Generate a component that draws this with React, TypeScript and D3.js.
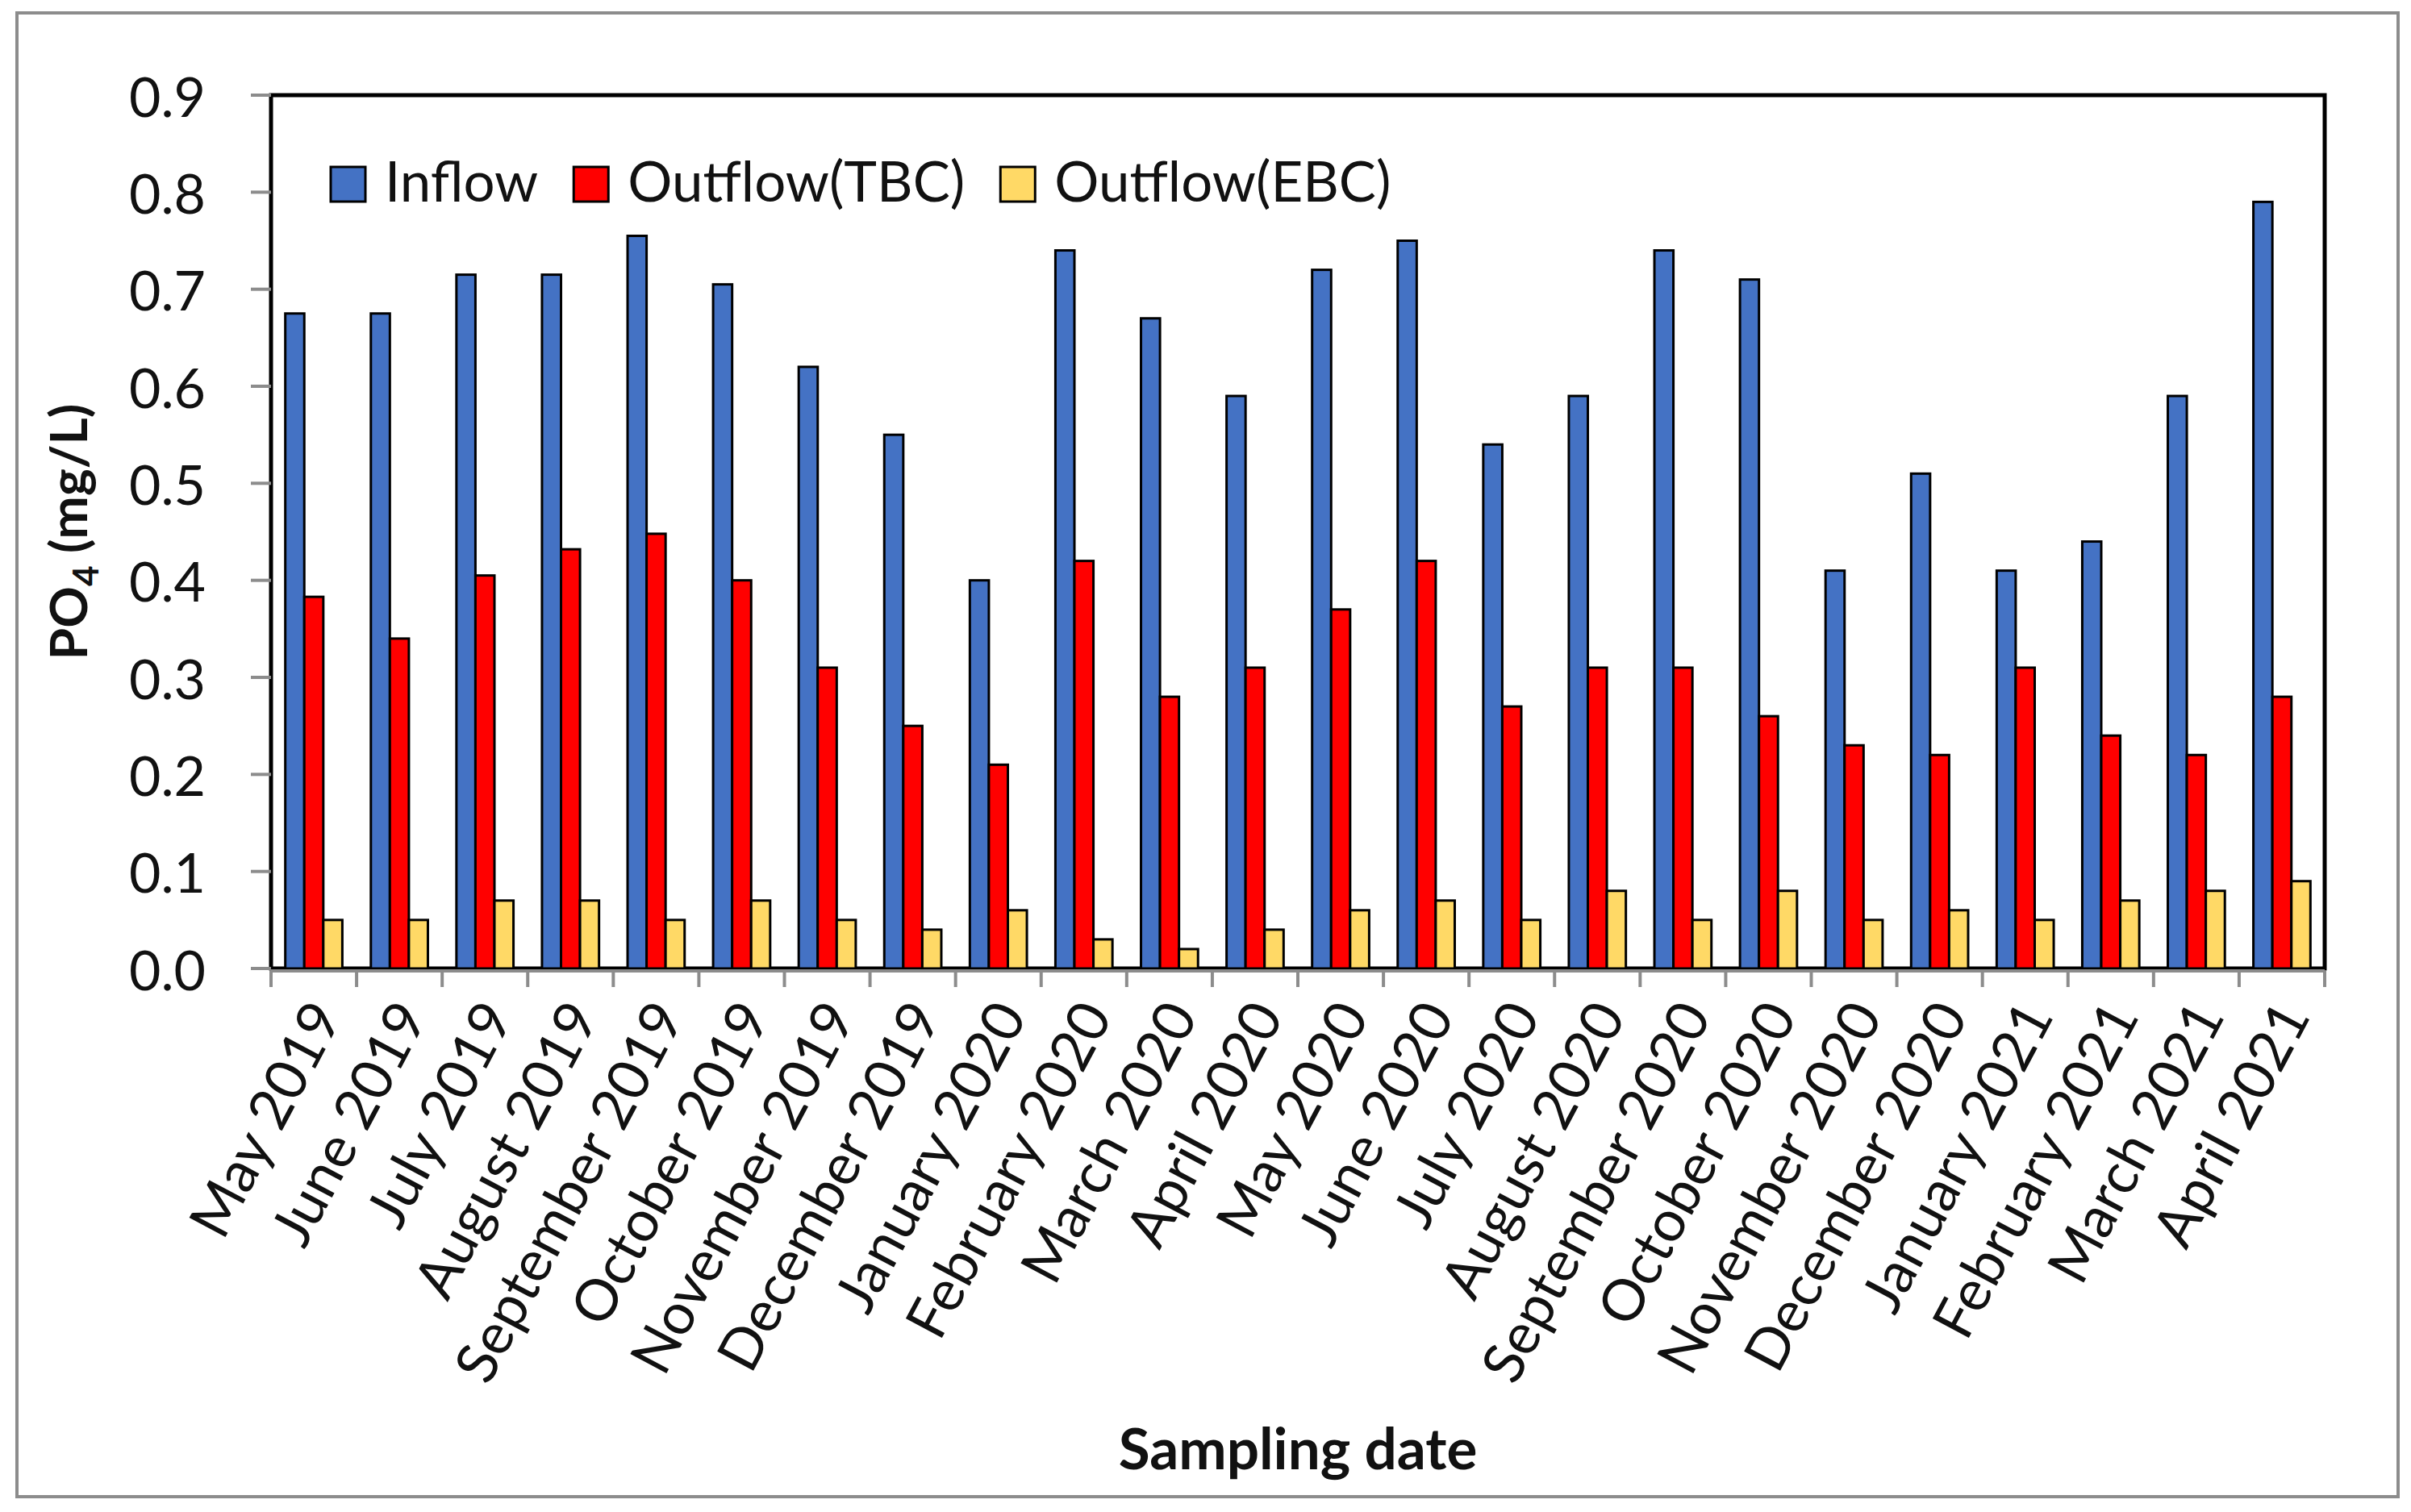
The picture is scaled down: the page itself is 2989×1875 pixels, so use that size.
import React, { useEffect, useRef } from "react";
import * as d3 from "d3";

// sampling months (x categories)
const months = [
  "May 2019", "June 2019", "July 2019", "August 2019", "September 2019", "October 2019",
  "November 2019", "December 2019", "January 2020", "February 2020", "March 2020", "April 2020",
  "May 2020", "June 2020", "July 2020", "August 2020", "September 2020", "October 2020",
  "November 2020", "December 2020", "January 2021", "February 2021", "March 2021", "April 2021",
];

// PO4 (mg/L) per series
const inflow = [
  0.675, 0.675, 0.715, 0.715, 0.755, 0.705, 0.62, 0.55, 0.40, 0.74, 0.67, 0.59,
  0.72, 0.75, 0.54, 0.59, 0.74, 0.71, 0.41, 0.51, 0.41, 0.44, 0.59, 0.79,
];
const outflowTBC = [
  0.383, 0.34, 0.405, 0.432, 0.448, 0.40, 0.31, 0.25, 0.21, 0.42, 0.28, 0.31,
  0.37, 0.42, 0.27, 0.31, 0.31, 0.26, 0.23, 0.22, 0.31, 0.24, 0.22, 0.28,
];
const outflowEBC = [
  0.05, 0.05, 0.07, 0.07, 0.05, 0.07, 0.05, 0.04, 0.06, 0.03, 0.02, 0.04,
  0.06, 0.07, 0.05, 0.08, 0.05, 0.08, 0.05, 0.06, 0.05, 0.07, 0.08, 0.09,
];

const seriesNames = ["Inflow", "Outflow(TBC)", "Outflow(EBC)"];
const seriesColors = ["#4472C4", "#FF0000", "#FFD966"];
const yTicks = [0, 0.1, 0.2, 0.3, 0.4, 0.5, 0.6, 0.7, 0.8, 0.9];

const App: React.FC = () => {
  const svgRef = useRef<SVGSVGElement>(null);

  useEffect(() => {
    document.body.style.margin = "0";
    const width = 2989;
    const height = 1875;
    const plot = { left: 336, right: 2882, top: 118, bottom: 1201 };
    const font = "Lato, 'Open Sans', sans-serif";
    const axisGray = "#8c8c8c";

    const svg = d3.select(svgRef.current);
    svg.selectAll("*").remove();

    svg.append("rect").attr("width", width).attr("height", height).attr("fill", "#fff");

    // outer chart frame
    svg
      .append("rect")
      .attr("x", 21)
      .attr("y", 16)
      .attr("width", 2952)
      .attr("height", 1840)
      .attr("fill", "none")
      .attr("stroke", axisGray)
      .attr("stroke-width", 4);

    const x = d3.scaleBand().domain(months).range([plot.left, plot.right]).paddingInner(0).paddingOuter(0);
    const xs = d3
      .scaleBand()
      .domain(seriesNames)
      .range([0, x.bandwidth()])
      .paddingInner(0)
      .paddingOuter(0.75);
    const y = d3.scaleLinear().domain([0, 0.9]).range([plot.bottom, plot.top]);

    // plot area border
    svg
      .append("rect")
      .attr("x", plot.left)
      .attr("y", plot.top)
      .attr("width", plot.right - plot.left)
      .attr("height", plot.bottom - plot.top)
      .attr("fill", "none")
      .attr("stroke", "#000")
      .attr("stroke-width", 5);

    // bars
    const allSeries = [inflow, outflowTBC, outflowEBC];
    allSeries.forEach((values, si) => {
      svg
        .append("g")
        .selectAll("rect")
        .data(values)
        .enter()
        .append("rect")
        .attr("x", (d, i) => (x(months[i]) as number) + (xs(seriesNames[si]) as number))
        .attr("y", (d) => y(d))
        .attr("width", xs.bandwidth())
        .attr("height", (d) => y(0) - y(d))
        .attr("fill", seriesColors[si])
        .attr("stroke", "#000")
        .attr("stroke-width", 3);
    });

    // y axis ticks and labels
    const yAxis = svg.append("g");
    yAxis
      .selectAll("line")
      .data(yTicks)
      .enter()
      .append("line")
      .attr("x1", plot.left - 25)
      .attr("x2", plot.left)
      .attr("y1", (d) => y(d))
      .attr("y2", (d) => y(d))
      .attr("stroke", axisGray)
      .attr("stroke-width", 4);
    yAxis
      .selectAll("text")
      .data(yTicks)
      .enter()
      .append("text")
      .attr("x", 255)
      .attr("y", (d) => y(d))
      .attr("text-anchor", "end")
      .attr("dominant-baseline", "central")
      .style("font-family", font)
      .style("font-size", "68px")
      .attr("fill", "#111")
      .text((d) => d3.format(".1f")(d));

    // x axis line, ticks at category boundaries
    const axisY = plot.bottom + 3;
    svg
      .append("line")
      .attr("x1", plot.left)
      .attr("x2", plot.right)
      .attr("y1", axisY)
      .attr("y2", axisY)
      .attr("stroke", axisGray)
      .attr("stroke-width", 4);
    const bounds = months.map((m) => x(m) as number).concat([plot.right]);
    svg
      .append("g")
      .selectAll("line")
      .data(bounds)
      .enter()
      .append("line")
      .attr("x1", (d) => d)
      .attr("x2", (d) => d)
      .attr("y1", axisY)
      .attr("y2", axisY + 20)
      .attr("stroke", axisGray)
      .attr("stroke-width", 4);

    // rotated month labels
    svg
      .append("g")
      .selectAll("text")
      .data(months)
      .enter()
      .append("text")
      .attr(
        "transform",
        (d) => `translate(${(x(d) as number) + x.bandwidth() / 2 + 12},${plot.bottom + 46}) rotate(-62)`
      )
      .attr("text-anchor", "end")
      .attr("dominant-baseline", "central")
      .style("font-family", font)
      .style("font-size", "71px")
      .attr("fill", "#111")
      .text((d) => d);

    // axis titles
    svg
      .append("text")
      .attr("x", (plot.left + plot.right) / 2)
      .attr("y", 1822)
      .attr("text-anchor", "middle")
      .style("font-family", font)
      .style("font-size", "71px")
      .style("font-weight", "bold")
      .attr("fill", "#111")
      .text("Sampling date");

    const yTitle = svg
      .append("text")
      .attr("transform", `translate(108,${(plot.top + plot.bottom) / 2}) rotate(-90)`)
      .attr("text-anchor", "middle")
      .style("font-family", font)
      .style("font-size", "64px")
      .style("font-weight", "bold")
      .attr("fill", "#111");
    yTitle.append("tspan").text("PO");
    yTitle.append("tspan").attr("dy", 14).style("font-size", "44px").text("4");
    yTitle.append("tspan").attr("dy", -14).text(" (mg/L)");

    // legend
    const legend = svg.append("g");
    let lx = 410;
    seriesNames.forEach((name, i) => {
      legend
        .append("rect")
        .attr("x", lx)
        .attr("y", 207)
        .attr("width", 43)
        .attr("height", 43)
        .attr("fill", seriesColors[i])
        .attr("stroke", "#000")
        .attr("stroke-width", 3);
      const t = legend
        .append("text")
        .attr("x", lx + 67)
        .attr("y", 250)
        .style("font-family", font)
        .style("font-size", "69px")
        .attr("fill", "#111")
        .text(name);
      const len = (t.node() as SVGTextElement).getComputedTextLength();
      lx = lx + 67 + len + 44;
    });
  }, []);

  return <svg ref={svgRef} width={2989} height={1875} style={{ display: "block" }} />;
};

export default App;
